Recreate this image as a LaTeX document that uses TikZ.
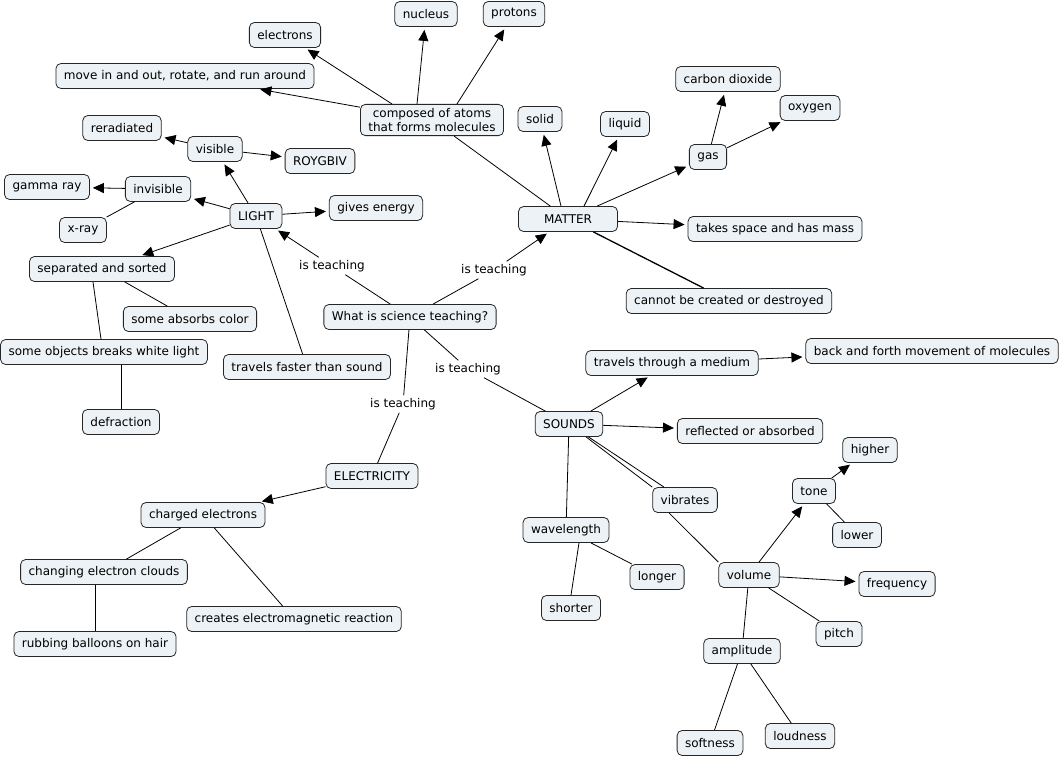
\documentclass[tikz,border=0pt]{standalone}
\usepackage{fontspec}
\setmainfont{DejaVu Sans}
\usetikzlibrary{arrows.meta}
\definecolor{nfill}{HTML}{ECF2F5}
\definecolor{nline}{HTML}{262626}
\begin{document}
\begin{tikzpicture}[x=1pt,y=-1pt,line width=0.8pt,
  font=\fontsize{12}{14}\selectfont,
  concept/.style={draw=nline, fill=nfill, rounded corners=5pt, inner xsep=8pt, inner ysep=3pt, minimum height=25pt, text=black, align=center},
  lab/.style={inner sep=2.5pt, text=black},
  ar/.style={-{Triangle[length=11pt,width=10pt]}, shorten >=3pt},
  thickln/.style={line width=1.3pt}]
\fill[white] (0,0) rectangle (1062,758);
\useasboundingbox (0,0) rectangle (1062,758);
% MATTER branch
\node[concept] (electrons) at (285,35) {electrons};
\node[concept] (nucleus) at (426,14) {nucleus};
\node[concept] (protons) at (514,14) {protons};
\node[concept] (move) at (185,76) {move in and out, rotate, and run around};
\node[concept, inner ysep=4pt] (composed) at (432,120) {composed of atoms\\that forms molecules};
\node[concept] (solid) at (540,119) {solid};
\node[concept] (liquid) at (625,124) {liquid};
\node[concept] (co2) at (728,79) {carbon dioxide};
\node[concept] (oxygen) at (810,108) {oxygen};
\node[concept] (gas) at (708,157) {gas};
\node[concept, minimum width=99pt] (matter) at (568,219) {MATTER};
\node[concept] (takes) at (775,229) {takes space and has mass};
\node[concept] (cannot) at (729,301) {cannot be created or destroyed};
% LIGHT branch
\node[concept] (reradiated) at (122,128) {reradiated};
\node[concept] (visible) at (215,149) {visible};
\node[concept] (roygbiv) at (320,161) {ROYGBIV};
\node[concept] (gamma) at (47,187) {gamma ray};
\node[concept] (invisible) at (158,189) {invisible};
\node[concept] (xray) at (83,230) {x-ray};
\node[concept] (light) at (256,216) {LIGHT};
\node[concept] (gives) at (376,208) {gives energy};
\node[concept] (separated) at (102,269) {separated and sorted};
\node[concept] (absorbs) at (190,319) {some absorbs color};
\node[concept] (objects) at (104,352) {some objects breaks white light};
\node[concept] (faster) at (307,367) {travels faster than sound};
\node[concept] (defraction) at (121,422) {defraction};
% center
\node[concept] (what) at (410,317) {What is science teaching?};
\node[lab] (l1) at (332,266) {is teaching};
\node[lab] (l2) at (494,270) {is teaching};
\node[lab] (l3) at (403,404) {is teaching};
\node[lab] (l4) at (468,369) {is teaching};
% ELECTRICITY branch
\node[concept] (elec) at (372,476) {ELECTRICITY};
\node[concept] (charged) at (203,515) {charged electrons};
\node[concept] (changing) at (104,572) {changing electron clouds};
\node[concept] (creates) at (294,619) {creates electromagnetic reaction};
\node[concept] (rubbing) at (95,644) {rubbing balloons on hair};
% SOUNDS branch
\node[concept] (medium) at (672,363) {travels through a medium};
\node[concept] (back) at (932,351) {back and forth movement of molecules};
\node[concept] (sounds) at (569,424) {SOUNDS};
\node[concept] (reflected) at (750,431) {reflected or absorbed};
\node[concept] (higher) at (870,450) {higher};
\node[concept] (tone) at (814,491) {tone};
\node[concept] (vibrates) at (685,500) {vibrates};
\node[concept] (wavelength) at (566,530) {wavelength};
\node[concept] (lower) at (857,535) {lower};
\node[concept] (longer) at (657,577) {longer};
\node[concept] (volume) at (749,575) {volume};
\node[concept] (frequency) at (897,584) {frequency};
\node[concept] (shorter) at (571,608) {shorter};
\node[concept] (pitch) at (839,634) {pitch};
\node[concept] (amplitude) at (742,651) {amplitude};
\node[concept] (softness) at (710,743) {softness};
\node[concept] (loudness) at (800,736) {loudness};
% center connectors
\draw (what) -- (l1);
\draw[ar] (l1) -- (light);
\draw (what) -- (l2);
\draw[ar] (l2) -- (matter);
\draw (what) -- (l3);
\draw (l3) -- (elec);
\draw (what) -- (l4);
\draw (l4) -- (sounds);
% MATTER
\draw (composed) -- (matter);
\draw[ar] ([xshift=-40pt]composed.north) -- (electrons);
\draw[ar] ([xshift=-15pt]composed.north) -- (nucleus);
\draw[ar] ([xshift=25pt]composed.north) -- (protons);
\draw[ar] (composed) -- (move);
\draw[ar] ([xshift=-7pt]matter.north) -- (solid);
\draw[ar] ([xshift=16pt]matter.north) -- (liquid);
\draw[ar] (matter) -- (gas);
\draw[ar] (gas) -- (co2);
\draw[ar] (gas) -- (oxygen);
\draw[ar] (matter) -- (takes);
\draw[thickln] (matter) -- (cannot);
% LIGHT
\draw[ar] (light) -- (visible);
\draw[ar] (visible) -- (reradiated);
\draw[ar] (visible) -- (roygbiv);
\draw[ar] (light) -- (invisible);
\draw[ar] (invisible) -- (gamma);
\draw (invisible) -- (xray);
\draw[ar] (light) -- (gives);
\draw[ar] (light) -- (separated);
\draw (light) -- (faster);
\draw (separated) -- (absorbs);
\draw ([xshift=-9pt]separated.south) -- ([xshift=-3pt]objects.north);
\draw (defraction.north |- objects.south) -- (defraction.north);
% ELECTRICITY
\draw[ar] (elec) -- (charged);
\draw (charged) -- (changing);
\draw (charged) -- (creates);
\draw (rubbing.north |- changing.south) -- (rubbing.north);
% SOUNDS
\draw[ar] (sounds) -- (medium);
\draw[ar] (medium) -- (back);
\draw[ar] (sounds) -- (reflected);
\draw (sounds) -- (vibrates.north west);
\draw (sounds) -- ([xshift=-21pt]vibrates.north);
\draw ([xshift=-16pt]vibrates.south) -- (volume.north west);
\draw (sounds) -- (wavelength);
\draw (wavelength) -- (longer);
\draw ([xshift=13pt]wavelength.south) -- (shorter.north);
\draw[ar] (volume) -- (tone);
\draw[ar] (tone) -- (higher);
\draw (tone) -- (lower);
\draw[ar] (volume) -- (frequency);
\draw (volume) -- (pitch);
\draw (volume) -- (amplitude);
\draw (amplitude) -- (softness);
\draw (amplitude) -- (loudness);
\end{tikzpicture}
\end{document}
